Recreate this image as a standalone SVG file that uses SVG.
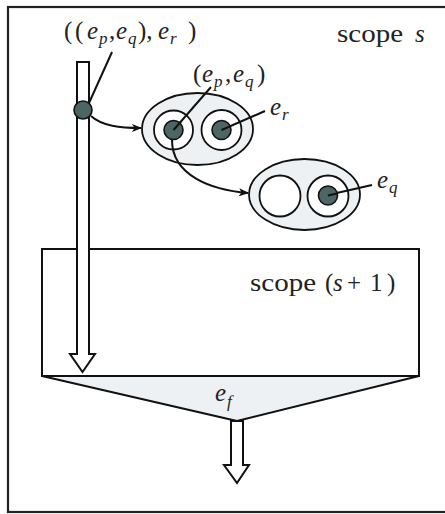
<svg xmlns="http://www.w3.org/2000/svg" width="445" height="514" viewBox="0 0 445 514">
<defs>
<marker id="ah" viewBox="0 0 10 8" refX="9" refY="4" markerWidth="10" markerHeight="8" markerUnits="userSpaceOnUse" orient="auto">
<path d="M0,0 L10,4 L0,8 L2.5,4 z" fill="#111"/>
</marker>
<style>
.ln{stroke:#111;stroke-width:2;fill:none}
.blk{stroke:#111;stroke-width:2;fill:#fff;stroke-linejoin:miter}
.ell{stroke:#111;stroke-width:1.8;fill:#eef1f3}
.ring{stroke:#111;stroke-width:1.8;fill:#fff}
.dot{stroke:#111;stroke-width:1.6;fill:#4d6565}
text{font-family:'Liberation Serif','DejaVu Serif',serif;fill:#222}
.rm{font-size:25px}
.it{font-style:italic;font-size:25px}
.sub{font-style:italic;font-size:17px}
</style>
</defs>
<rect x="8" y="7" width="445" height="505" fill="#fff" stroke="#222" stroke-width="2.2"/>

<g id="scope-s1">
<rect x="42" y="249" width="377" height="127" class="blk"/>
<polygon points="42,376 419,376 237,421" fill="#eef1f3" stroke="#111" stroke-width="2" stroke-linejoin="round"/>
<text class="rm" x="250" y="291" textLength="66" lengthAdjust="spacingAndGlyphs">scope</text>
<text class="rm" x="325" y="291">(</text>
<text class="it" x="333" y="291">s</text>
<text class="rm" x="347" y="291">+</text>
<text class="rm" x="370" y="291">1</text>
<text class="rm" x="387" y="291">)</text>
<text class="it" x="215" y="401">e</text>
<text class="sub" x="227" y="407">f</text>
</g>

<g id="scope-s-label">
<text class="rm" x="337" y="42" textLength="66" lengthAdjust="spacingAndGlyphs">scope</text>
<text class="it" x="415" y="42">s</text>
</g>

<g id="stream-in">
<polygon points="77,62 89,62 89,354 95,354 82.5,372 70,354 77,354" class="blk"/>
</g>

<g id="stream-out">
<polygon points="231,421 243,421 243,465 249,465 237,483 224,465 231,465" class="blk"/>
</g>

<g id="tuple-1">
<ellipse cx="197.5" cy="129" rx="55.5" ry="36" class="ell"/>
<circle cx="173.5" cy="130" r="19.5" class="ring"/>
<circle cx="221.5" cy="130" r="20" class="ring"/>
</g>

<g id="tuple-2">
<ellipse cx="304.5" cy="194.5" rx="55.5" ry="35.5" class="ell"/>
<circle cx="280" cy="196" r="20.5" class="ring"/>
<circle cx="328" cy="196" r="20.5" class="ring"/>
</g>

<g id="connectors">
<path d="M91,116 C102,126 120,128 141,128" class="ln" stroke-width="1.6" marker-end="url(#ah)"/>
<path d="M172,140 C172,176 212,190 248,193" class="ln" stroke-width="1.6" marker-end="url(#ah)"/>
<line x1="89" y1="103" x2="112" y2="52" class="ln"/>
<line x1="173.5" y1="130" x2="211" y2="87" class="ln"/>
<line x1="221.5" y1="130" x2="265" y2="111" class="ln"/>
<line x1="328" y1="195" x2="372" y2="185" class="ln"/>
</g>

<g id="dots">
<circle cx="83" cy="110" r="9" class="dot"/>
<circle cx="173.5" cy="130" r="9.5" class="dot"/>
<circle cx="221.5" cy="130" r="9.5" class="dot"/>
<circle cx="328" cy="195.5" r="9.5" class="dot"/>
<line x1="173.5" y1="130" x2="181" y2="121.5" class="ln"/>
<line x1="221.5" y1="130" x2="230" y2="126.3" class="ln"/>
<line x1="328" y1="195.5" x2="337" y2="193.5" class="ln"/>
</g>

<g id="labels">
<text class="rm" x="64" y="39">(</text>
<text class="rm" x="75" y="39">(</text>
<text class="it" x="87" y="39">e</text>
<text class="sub" x="99" y="44">p</text>
<text class="rm" x="109" y="39">,</text>
<text class="it" x="116" y="39">e</text>
<text class="sub" x="128" y="44">q</text>
<text class="rm" x="138" y="39">),</text>
<text class="it" x="158" y="39">e</text>
<text class="sub" x="170" y="44">r</text>
<text class="rm" x="188" y="39">)</text>

<text class="rm" x="193" y="82">(</text>
<text class="it" x="202" y="82">e</text>
<text class="sub" x="214" y="87">p</text>
<text class="rm" x="225" y="82">,</text>
<text class="it" x="233" y="82">e</text>
<text class="sub" x="245" y="87">q</text>
<text class="rm" x="257" y="82">)</text>

<text class="it" x="270" y="115">e</text>
<text class="sub" x="282" y="120">r</text>

<text class="it" x="377" y="188">e</text>
<text class="sub" x="389" y="193">q</text>
</g>
</svg>
